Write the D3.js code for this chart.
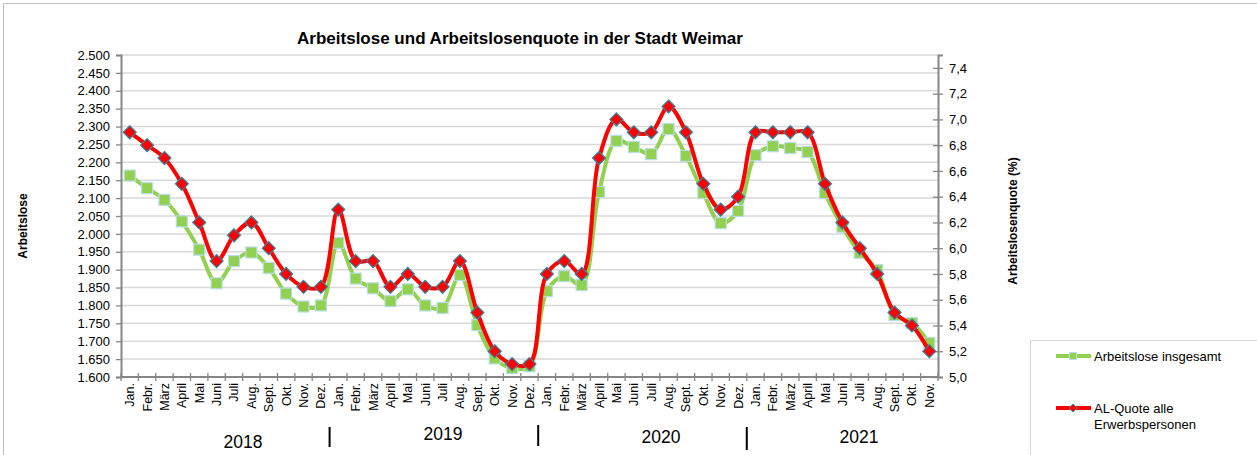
<!DOCTYPE html>
<html>
<head>
<meta charset="utf-8">
<script src="https://cdn.jsdelivr.net/npm/d3@7"></script>
<style>
  body { margin: 0; background: #fff; }
  text { font-family: "Liberation Sans", Arial, sans-serif; fill: #000; }
</style>
</head>
<body>
<script>
const months = ["Jan.","Febr.","März","April","Mai","Juni","Juli","Aug.","Sept.","Okt.","Nov.","Dez."];
const years = ["2018","2019","2020","2021"];

// Arbeitslose insgesamt (Jan 2018 - Nov 2021)
const arbeitslose = [
  2163,2128,2095,2035,1956,1862,1924,1948,1905,1833,1797,1800,
  1975,1875,1848,1812,1845,1800,1793,1885,1745,1652,1625,1630,
  1840,1882,1857,2117,2260,2243,2223,2293,2218,2114,2030,2064,
  2220,2245,2240,2229,2114,2020,1947,1899,1773,1751,1695
];
// AL-Quote alle Erwerbspersonen (%)
const quote = [
  6.9,6.8,6.7,6.5,6.2,5.9,6.1,6.2,6.0,5.8,5.7,5.7,
  6.3,5.9,5.9,5.7,5.8,5.7,5.7,5.9,5.5,5.2,5.1,5.1,
  5.8,5.9,5.8,6.7,7.0,6.9,6.9,7.1,6.9,6.5,6.3,6.4,
  6.9,6.9,6.9,6.9,6.5,6.2,6.0,5.8,5.5,5.4,5.2
];
const leftTicks = d3.range(1600, 2501, 50);
const rightTicks = d3.range(5.0, 7.41, 0.2);

const labels = arbeitslose.map((d, i) => months[i % 12]);

const W = 1257, H = 455;
const plot = { left: 121, right: 938, top: 55, bottom: 377 };

const svg = d3.select("body").append("svg")
  .attr("width", W).attr("height", H);

svg.append("rect")
  .attr("x", 3.5).attr("y", 3.5).attr("width", W).attr("height", H)
  .attr("fill", "none").attr("stroke", "#bfbfbf");

const x = d3.scaleBand().domain(d3.range(arbeitslose.length))
  .range([plot.left, plot.right]).padding(0);
const yL = d3.scaleLinear().domain([1600, 2500]).range([plot.bottom, plot.top]);
const yR = d3.scaleLinear().domain([5.0, 7.5]).range([plot.bottom, plot.top]);
const cx = i => x(i) + x.bandwidth() / 2;

// gridlines
svg.append("g").selectAll("line").data(leftTicks.slice(1)).enter().append("line")
  .attr("x1", plot.left).attr("x2", plot.right)
  .attr("y1", d => yL(d)).attr("y2", d => yL(d))
  .attr("stroke", "#d9d9d9").attr("stroke-width", 1.5);

// left axis
const gL = svg.append("g").attr("transform", "translate(" + plot.left + ",0)")
  .call(d3.axisLeft(yL).tickValues(leftTicks).tickSize(5).tickPadding(6)
    .tickFormat(d => d3.format(",")(d).replace(",", ".")));
// right axis
const gR = svg.append("g").attr("transform", "translate(" + plot.right + ",0)")
  .call(d3.axisRight(yR).tickValues(rightTicks).tickSize(5).tickPadding(6)
    .tickFormat(d => d3.format(".1f")(d).replace(".", ",")));
gR.selectAll(".tick line").attr("x1", -5);

[gL, gR].forEach(g => {
  g.select(".domain").attr("stroke", "#868686").attr("stroke-width", 2);
  g.selectAll(".tick line").attr("stroke", "#868686").attr("stroke-width", 1.3);
  g.selectAll(".tick text").style("font-size", "13px").attr("fill", "#000");
});

// x axis
svg.append("line")
  .attr("x1", plot.left).attr("x2", plot.right)
  .attr("y1", plot.bottom).attr("y2", plot.bottom)
  .attr("stroke", "#868686").attr("stroke-width", 2);
svg.append("g").selectAll("line").data(d3.range(arbeitslose.length + 1)).enter().append("line")
  .attr("x1", i => plot.left + i * x.bandwidth()).attr("x2", i => plot.left + i * x.bandwidth())
  .attr("y1", plot.bottom - 4).attr("y2", plot.bottom + 4)
  .attr("stroke", "#868686").attr("stroke-width", 1.3);

svg.append("g").selectAll("text").data(labels).enter().append("text")
  .attr("transform", (d, i) => "translate(" + (cx(i) + 4.5) + "," + (plot.bottom + 6) + ") rotate(-90)")
  .attr("text-anchor", "end")
  .style("font-size", "12.5px")
  .text(d => d);

// year labels and separators
const yearPos = [[243, 448], [443, 440], [661, 443], [859, 443]];
svg.append("g").selectAll("text").data(years).enter().append("text")
  .attr("x", (d, i) => yearPos[i][0]).attr("y", (d, i) => yearPos[i][1])
  .attr("text-anchor", "middle")
  .style("font-size", "17.5px")
  .text(d => d);
const sepY = [[427, 447], [425, 446], [427, 450]];
svg.append("g").selectAll("line").data([12, 24, 36]).enter().append("line")
  .attr("x1", d => plot.left + d * x.bandwidth()).attr("x2", d => plot.left + d * x.bandwidth())
  .attr("y1", (d, i) => sepY[i][0]).attr("y2", (d, i) => sepY[i][1])
  .attr("stroke", "#000").attr("stroke-width", 2);

// series
const lineL = d3.line().x((d, i) => cx(i)).y(d => yL(d)).curve(d3.curveCatmullRom.alpha(0.5));
const lineR = d3.line().x((d, i) => cx(i)).y(d => yR(d)).curve(d3.curveCatmullRom.alpha(0.5));

svg.append("path").datum(arbeitslose).attr("d", lineL)
  .attr("fill", "none").attr("stroke", "#92d050").attr("stroke-width", 4);
svg.append("g").selectAll("rect").data(arbeitslose).enter().append("rect")
  .attr("x", (d, i) => cx(i) - 5.5).attr("y", d => yL(d) - 5.5)
  .attr("width", 11).attr("height", 11)
  .attr("fill", "#92d050").attr("stroke", "#b7dee8").attr("stroke-width", 1.2);

svg.append("path").datum(quote).attr("d", lineR)
  .attr("fill", "none").attr("stroke", "#ff0000").attr("stroke-width", 4);
const diamond = "M0,-6.5L6.5,0L0,6.5L-6.5,0Z";
svg.append("g").selectAll("path").data(quote).enter().append("path")
  .attr("d", diamond)
  .attr("transform", (d, i) => "translate(" + cx(i) + "," + yR(d) + ")")
  .attr("fill", "#ff0000").attr("stroke", "#31859c").attr("stroke-width", 1.2);

// titles
svg.append("text").attr("x", 520).attr("y", 44).attr("text-anchor", "middle")
  .style("font-size", "17px").style("font-weight", "bold")
  .text("Arbeitslose und Arbeitslosenquote in der Stadt Weimar");
svg.append("text").attr("transform", "translate(27,226) rotate(-90)").attr("text-anchor", "middle")
  .style("font-size", "12px").style("font-weight", "bold").text("Arbeitslose");
svg.append("text").attr("transform", "translate(1017,221) rotate(-90)").attr("text-anchor", "middle")
  .style("font-size", "12px").style("font-weight", "bold").text("Arbeitslosenquote (%)");

// legend
svg.append("rect").attr("x", 1030.5).attr("y", 340.5).attr("width", 240).attr("height", 130)
  .attr("fill", "#fff").attr("stroke", "#d9d9d9");
const lg = svg.append("g");
lg.append("line").attr("x1", 1056).attr("x2", 1091).attr("y1", 356).attr("y2", 356)
  .attr("stroke", "#92d050").attr("stroke-width", 4);
lg.append("rect").attr("x", 1069.5).attr("y", 352.5).attr("width", 7).attr("height", 7)
  .attr("fill", "#92d050").attr("stroke", "#b7dee8");
lg.append("text").attr("x", 1094).attr("y", 361).style("font-size", "13px").text("Arbeitslose insgesamt");
lg.append("line").attr("x1", 1056).attr("x2", 1091).attr("y1", 408).attr("y2", 408)
  .attr("stroke", "#ff0000").attr("stroke-width", 4);
lg.append("path").attr("d", "M0,-4L4,0L0,4L-4,0Z").attr("transform", "translate(1073,408)")
  .attr("fill", "#ff0000").attr("stroke", "#31859c");
lg.append("text").attr("x", 1094).attr("y", 413).style("font-size", "13px").text("AL-Quote alle");
lg.append("text").attr("x", 1094).attr("y", 429).style("font-size", "13px").text("Erwerbspersonen");
</script>
</body>
</html>
